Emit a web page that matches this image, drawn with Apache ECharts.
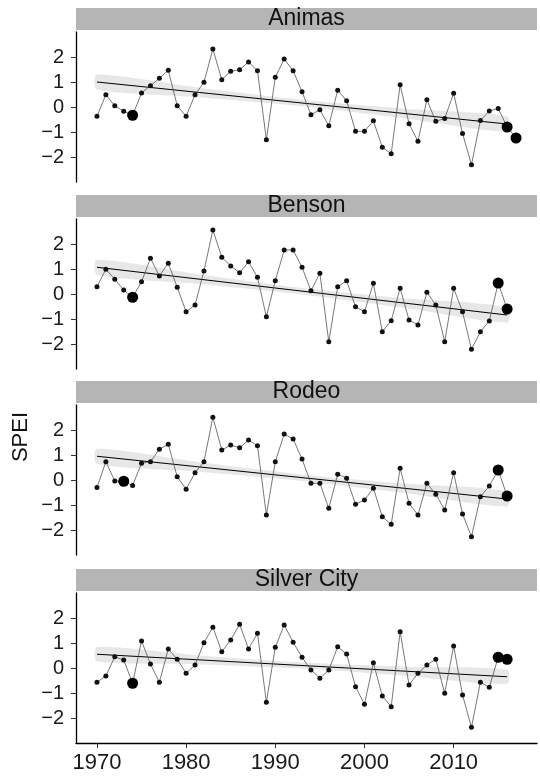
<!DOCTYPE html>
<html>
<head>
<meta charset="utf-8">
<script src="https://cdn.jsdelivr.net/npm/echarts@6/dist/echarts.min.js"></script>
<style>
  html, body { margin: 0; padding: 0; background: #fff; }
  #chart { width: 540px; height: 783px; }
</style>
</head>
<body>
<div id="chart"></div>
<script>
// Annual SPEI by site, 1970 onward
const years = [1970, 1971, 1972, 1973, 1974, 1975, 1976, 1977, 1978, 1979,
               1980, 1981, 1982, 1983, 1984, 1985, 1986, 1987, 1988, 1989,
               1990, 1991, 1992, 1993, 1994, 1995, 1996, 1997, 1998, 1999,
               2000, 2001, 2002, 2003, 2004, 2005, 2006, 2007, 2008, 2009,
               2010, 2011, 2012, 2013, 2014, 2015, 2016, 2017];

const sites = ['Animas', 'Benson', 'Rodeo', 'Silver City'];

const animas = [-0.37, 0.49, 0.05, -0.17, -0.33, 0.56, 0.85, 1.15, 1.47, 0.05,
                -0.37, 0.49, 0.99, 2.32, 1.09, 1.43, 1.49, 1.80, 1.45, -1.31,
                1.19, 1.92, 1.45, 0.61, -0.31, -0.11, -0.75, 0.67, 0.25, -0.97,
                -0.97, -0.55, -1.61, -1.87, 0.89, -0.67, -1.37, 0.29, -0.57, -0.46,
                0.55, -1.06, -2.31, -0.54, -0.16, -0.06, -0.80, -1.24];

const benson = [0.29, 0.99, 0.59, 0.16, -0.13, 0.49, 1.43, 0.72, 1.23, 0.27,
                -0.71, -0.44, 0.92, 2.56, 1.47, 1.12, 0.85, 1.29, 0.67, -0.91,
                0.53, 1.76, 1.76, 1.07, 0.13, 0.83, -1.91, 0.29, 0.53, -0.51,
                -0.71, 0.43, -1.51, -1.07, 0.23, -1.04, -1.24, 0.07, -0.44, -1.91,
                0.23, -0.71, -2.21, -1.51, -1.08, 0.44, -0.60];

const rodeo = [-0.30, 0.73, -0.04, -0.05, -0.22, 0.67, 0.73, 1.23, 1.43, 0.13,
               -0.37, 0.29, 0.73, 2.51, 1.20, 1.40, 1.29, 1.60, 1.37, -1.40,
               0.73, 1.84, 1.64, 0.84, -0.13, -0.13, -1.13, 0.23, 0.07, -0.97,
               -0.80, -0.33, -1.47, -1.77, 0.47, -0.93, -1.40, -0.13, -0.57, -1.20,
               0.29, -1.36, -2.27, -0.67, -0.24, 0.40, -0.64];

const silverCity = [-0.57, -0.32, 0.45, 0.32, -0.61, 1.08, 0.16, -0.57, 0.76, 0.35,
                    -0.21, 0.12, 1.01, 1.63, 0.65, 1.12, 1.75, 0.76, 1.39, -1.37,
                    0.83, 1.72, 1.03, 0.43, -0.08, -0.41, -0.08, 0.85, 0.56, -0.75,
                    -1.45, 0.21, -1.12, -1.55, 1.45, -0.68, -0.21, 0.12, 0.35, -1.01,
                    0.88, -1.08, -2.37, -0.57, -0.77, 0.43, 0.35];

// Years drawn with large markers
const animasMarked = [1974, 2016, 2017];
const bensonMarked = [1974, 2015, 2016];
const rodeoMarked = [1973, 2015, 2016];
const silverCityMarked = [1974, 2015, 2016];

// Linear trend: [start year, start value, end year, end value]
const animasTrend = [1970, 1.00, 2016, -0.68];
const bensonTrend = [1970, 1.07, 2016, -0.84];
const rodeoTrend = [1970, 0.95, 2016, -0.76];
const silverCityTrend = [1970, 0.55, 2016, -0.35];

// Confidence band half-width at start, quarter, middle, three-quarter and end of the trend
const animasBand = [0.30, 0.19, 0.13, 0.19, 0.30];
const bensonBand = [0.30, 0.19, 0.13, 0.19, 0.30];
const rodeoBand = [0.30, 0.19, 0.13, 0.19, 0.30];
const silverCityBand = [0.28, 0.18, 0.12, 0.18, 0.28];

const yTicks = [-2, -1, 0, 1, 2];
const xTicks = [1970, 1980, 1990, 2000, 2010];

const values = [animas, benson, rodeo, silverCity];
const marked = [animasMarked, bensonMarked, rodeoMarked, silverCityMarked];
const trends = [animasTrend, bensonTrend, rodeoTrend, silverCityTrend];
const bands = [animasBand, bensonBand, rodeoBand, silverCityBand];

// Layout of the four stacked panels
const plotLeft = 76, plotRight = 537, plotHeight = 150;
const panelTops = [32, 219, 405, 593];
const xMin = 1967.65, xMax = 2019.35;
const font = '"Liberation Sans", Arial, sans-serif';

const grid = [], xAxis = [], yAxis = [], series = [], graphic = [];

panelTops.forEach((top, i) => {
  const isLast = i === panelTops.length - 1;
  grid.push({ left: plotLeft, width: plotRight - plotLeft, top: top, height: plotHeight });

  xAxis.push({
    type: 'value', gridIndex: i, min: xMin, max: xMax,
    splitLine: { show: false },
    axisLine: { show: isLast, onZero: false, lineStyle: { color: '#000', width: 1.3 } },
    axisTick: { show: isLast, customValues: xTicks, length: 5, lineStyle: { color: '#333', width: 1 } },
    axisLabel: {
      show: isLast, customValues: xTicks, margin: 9,
      color: '#1a1a1a', fontSize: 22, fontFamily: font,
      formatter: v => String(v)
    }
  });

  yAxis.push({
    type: 'value', gridIndex: i, min: -3, max: 3,
    splitLine: { show: false },
    axisLine: { show: true, onZero: false, lineStyle: { color: '#000', width: 1.3 } },
    axisTick: { show: true, customValues: yTicks, length: 5, lineStyle: { color: '#333', width: 1 } },
    axisLabel: {
      customValues: yTicks, margin: 12,
      color: '#1a1a1a', fontSize: 20, fontFamily: font,
      formatter: v => String(v).replace('-', '\u2212')
    }
  });

  const vals = values[i];
  const pts = vals.map((v, k) => [years[k], v]);
  const tr = trends[i];
  const hw = bands[i];
  const trendAt = x => tr[1] + (tr[3] - tr[1]) * (x - tr[0]) / (tr[2] - tr[0]);
  const bandYears = [0, 0.25, 0.5, 0.75, 1].map(f => tr[0] + f * (tr[2] - tr[0]));

  // Confidence band around the trend
  series.push({
    type: 'custom', xAxisIndex: i, yAxisIndex: i, silent: true, z: 1,
    data: [[tr[0], tr[1]]],
    renderItem: (params, api) => {
      const upper = bandYears.map((x, k) => api.coord([x, trendAt(x) + hw[k]]));
      const lower = bandYears.map((x, k) => api.coord([x, trendAt(x) - hw[k]])).reverse();
      return {
        type: 'polygon',
        shape: { points: upper.concat(lower), smooth: 0.25 },
        style: { fill: 'rgba(185,185,185,0.35)', stroke: null }
      };
    }
  });

  // Trend line
  series.push({
    type: 'line', xAxisIndex: i, yAxisIndex: i, z: 3,
    data: [[tr[0], tr[1]], [tr[2], tr[3]]],
    symbol: 'none', silent: true,
    lineStyle: { color: '#000', width: 1.1 }
  });

  // Annual values
  series.push({
    type: 'line', xAxisIndex: i, yAxisIndex: i, z: 4,
    data: pts,
    symbol: 'circle', symbolSize: 5, silent: true,
    itemStyle: { color: '#111', opacity: 1 },
    lineStyle: { color: '#555', width: 0.8 }
  });

  // Highlighted years
  series.push({
    type: 'scatter', xAxisIndex: i, yAxisIndex: i, z: 5,
    data: pts.filter(p => marked[i].includes(p[0])),
    symbolSize: 11, silent: true,
    itemStyle: { color: '#000', opacity: 1 }
  });

  // Panel strip with site name
  graphic.push({
    type: 'rect', z: 10,
    shape: { x: plotLeft, y: top - 24, width: plotRight - plotLeft, height: 22 },
    style: { fill: '#b5b5b5' }
  });
  graphic.push({
    type: 'text', z: 11,
    x: (plotLeft + plotRight) / 2, y: top - 13,
    style: {
      text: sites[i], fill: '#111', font: '23px ' + font,
      textAlign: 'center', textVerticalAlign: 'middle'
    }
  });
});

// Shared y-axis title
graphic.push({
  type: 'text', z: 11,
  x: 21, y: 437, rotation: Math.PI / 2,
  style: {
    text: 'SPEI', fill: '#111', font: '22px ' + font,
    textAlign: 'center', textVerticalAlign: 'middle'
  }
});

const chart = echarts.init(document.getElementById('chart'), null, { renderer: 'canvas' });
chart.setOption({
  backgroundColor: '#fff',
  animation: false,
  grid, xAxis, yAxis, series, graphic
});
</script>
</body>
</html>
